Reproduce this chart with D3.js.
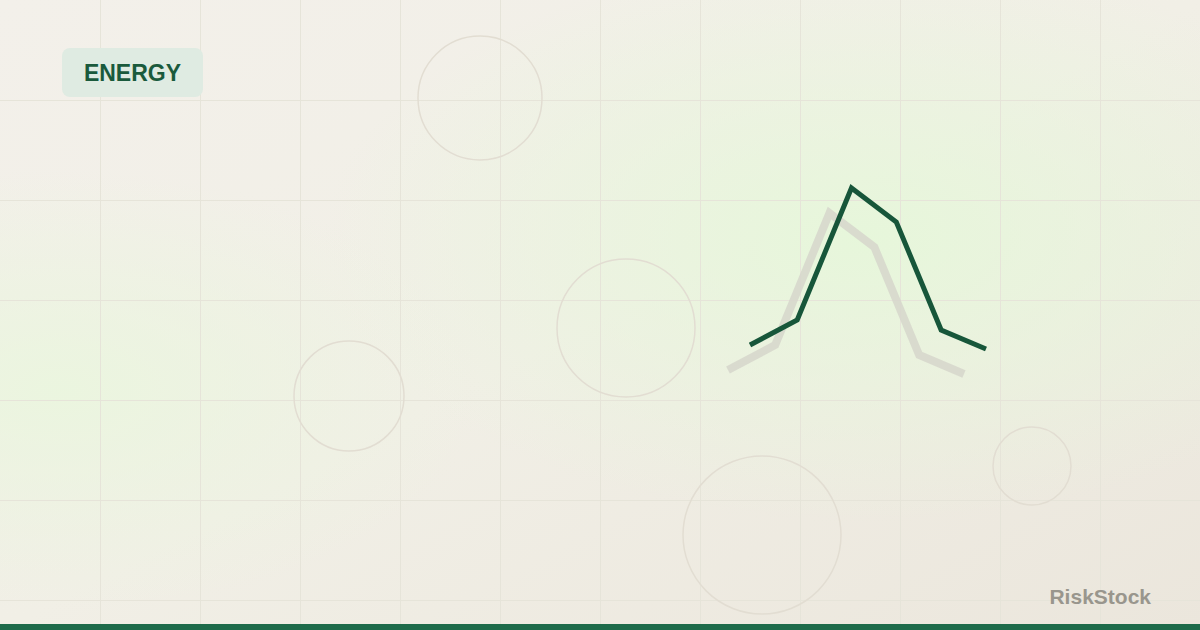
<!DOCTYPE html>
<html><head><meta charset="utf-8">
<script src="https://cdn.jsdelivr.net/npm/d3@7"></script>
<style>html,body{margin:0;padding:0;background:#f1eee6;}svg{display:block;}</style>
</head><body>
<script>
const categoryIndex = [0, 1, 2.15, 3.1, 4.05, 5];
const seriesValues = [22, 32, 84.8, 71.2, 28, 20.4];
const label = "ENERGY";
const brand = "RiskStock";
const decorCircles = [
  {cx: 480, cy: 98, r: 62},
  {cx: 626, cy: 328, r: 69},
  {cx: 349, cy: 396, r: 55},
  {cx: 762, cy: 535, r: 79},
  {cx: 1032, cy: 466, r: 39}
];

const W = 1200, H = 630;
const svg = d3.select("body").append("svg").attr("width", W).attr("height", H);
const defs = svg.append("defs");

const g1 = defs.append("linearGradient").attr("id","bg").attr("x1","0").attr("y1","0").attr("x2","1").attr("y2","1");
g1.append("stop").attr("offset","0").attr("stop-color","#f3f0ea");
g1.append("stop").attr("offset","0.5").attr("stop-color","#f1efe6");
g1.append("stop").attr("offset","1").attr("stop-color","#ebe6dc");
const r1 = defs.append("radialGradient").attr("id","rg1").attr("cx","0.72").attr("cy","0.38").attr("r","0.45");
r1.append("stop").attr("offset","0").attr("stop-color","#e6f7da").attr("stop-opacity",0.95);
r1.append("stop").attr("offset","1").attr("stop-color","#e6f7da").attr("stop-opacity",0);
const r2 = defs.append("radialGradient").attr("id","rg2").attr("cx","0.05").attr("cy","0.62").attr("r","0.35");
r2.append("stop").attr("offset","0").attr("stop-color","#eaf6de").attr("stop-opacity",0.9);
r2.append("stop").attr("offset","1").attr("stop-color","#eaf6de").attr("stop-opacity",0);

svg.append("rect").attr("width",W).attr("height",H).attr("fill","url(#bg)");
svg.append("rect").attr("width",W).attr("height",H).attr("fill","url(#rg1)");
svg.append("rect").attr("width",W).attr("height",H).attr("fill","url(#rg2)");

// grid
const grid = svg.append("g").attr("stroke","#e6e4d9").attr("stroke-width",1);
d3.range(100, W, 100).forEach(x => grid.append("line").attr("x1",x+0.5).attr("x2",x+0.5).attr("y1",0).attr("y2",H));
d3.range(100, H, 100).forEach(y => grid.append("line").attr("y1",y+0.5).attr("y2",y+0.5).attr("x1",0).attr("x2",W));

// circles
svg.append("g").selectAll("circle").data(decorCircles).join("circle")
  .attr("cx",d=>d.cx).attr("cy",d=>d.cy).attr("r",d=>d.r)
  .attr("fill","none").attr("stroke","#e2ddd2").attr("stroke-width",1.5);

// scales
const x = d3.scaleLinear().domain([0,5]).range([750,986]);
const y = d3.scaleLinear().domain([0,100]).range([400,150]);
const line = d3.line().x((d,i)=>x(categoryIndex[i])).y(d=>y(d));

svg.append("path").datum(seriesValues).attr("d",line)
  .attr("transform","translate(-22,25)")
  .attr("fill","none").attr("stroke","#d6d6cb").attr("stroke-opacity",0.85).attr("stroke-width",8);
svg.append("path").datum(seriesValues).attr("d",line)
  .attr("fill","none").attr("stroke","#17563a").attr("stroke-width",5).attr("stroke-linejoin","miter");

// label
svg.append("rect").attr("x",62).attr("y",48).attr("width",141).attr("height",49).attr("rx",8)
  .attr("fill","#dfebe2");
svg.append("text").attr("x",132.5).attr("y",81).attr("text-anchor","middle")
  .attr("font-family","Liberation Sans, Arial, sans-serif").attr("font-weight","bold").attr("font-size",23)
  .attr("fill","#1a5a3c").text(label);

// brand
svg.append("text").attr("x",1151).attr("y",604).attr("text-anchor","end")
  .attr("font-family","Liberation Sans, Arial, sans-serif").attr("font-weight","bold").attr("font-size",21)
  .attr("fill","#99968d").text(brand);

// bottom bar
svg.append("rect").attr("x",0).attr("y",624).attr("width",W).attr("height",6).attr("fill","#1e6b4a");
</script>
</body></html>
